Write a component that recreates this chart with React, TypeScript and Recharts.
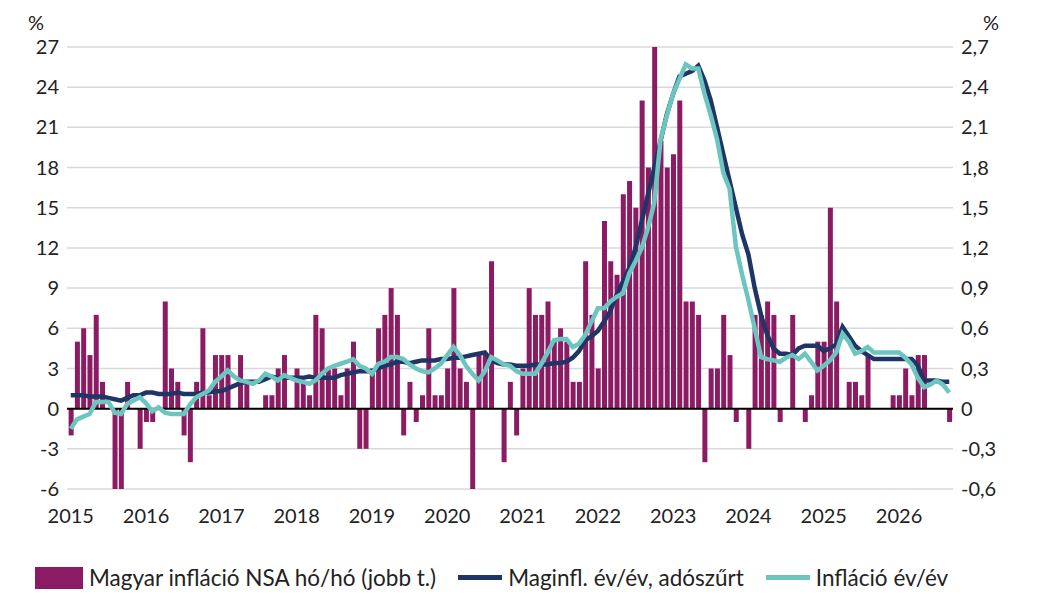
import React from "react";
import {
  ComposedChart,
  Bar,
  Line,
  XAxis,
  YAxis,
  CartesianGrid,
  ReferenceLine,
} from "recharts";

// monthly, Jan 2015 .. Sep 2026
const monthlyNsa = [
  -2, 5, 6, 4, 7, 2, 0, -6, -6, 2, 0, -3,
  -1, -1, 0, 8, 3, 2, -2, -4, 2, 6, 1, 4,
  4, 4, 0, 4, 2, 0, 0, 1, 1, 3, 4, 0,
  3, 2, 1, 7, 6, 3, 3, 1, 3, 5, -3, -3,
  3, 6, 7, 9, 7, -2, 2, -1, 1, 6, 1, 1,
  3, 9, 3, 2, -6, 4, 4, 11, 0, -4, 2, -2,
  3, 9, 7, 7, 8, 5, 6, 5, 2, 2, 11, 7,
  3, 14, 11, 10, 16, 17, 15, 23, 18, 27, 20, 18,
  19, 23, 8, 8, 7, -4, 3, 3, 7, 4, -1, 0,
  -3, 7, 7, 8, 7, -1, 0, 7, 0, -1, 1, 5,
  5, 15, 8, 0, 2, 2, 1, 4, 0, 0, 0, 1,
  1, 3, 1, 4, 4, 0, 0, 0, -1,
].map((v) => v / 10);

const coreYoy = [
  1.0, 1.0, 1.0, 0.9, 0.9, 0.9, 0.8, 0.7, 0.6, 0.8, 1.0, 1.0,
  1.2, 1.2, 1.1, 1.1, 1.1, 1.2, 1.1, 1.1, 1.1, 1.2, 1.2, 1.3,
  1.3, 1.5, 1.7, 1.9, 2.0, 2.0, 2.0, 2.2, 2.4, 2.3, 2.3, 2.3,
  2.3, 2.3, 2.4, 2.3, 2.3, 2.3, 2.3, 2.5, 2.6, 2.7, 2.8, 2.8,
  2.8, 3.0, 3.2, 3.3, 3.5, 3.5, 3.4, 3.5, 3.6, 3.6, 3.6, 3.7,
  3.7, 3.8, 3.8, 3.9, 4.0, 4.1, 4.2, 3.6, 3.4, 3.3, 3.3, 3.2,
  3.2, 3.2, 3.3, 3.3, 3.3, 3.4, 3.4, 3.5, 3.8, 4.3, 5.1, 5.4,
  5.8, 6.5, 7.3, 8.5, 9.5, 10.5, 12, 14, 16, 18, 20, 22,
  23.5, 24.8, 25, 25.2, 25.6, 24.5, 23, 21, 19, 17, 15, 13,
  11.5, 9, 7, 5.5, 4.5, 4.1, 4.1, 4.0, 4.5, 4.7, 4.7, 4.7,
  4.3, 4.5, 4.8, 6.1, 5.4, 4.7, 4.3, 4.0, 3.7, 3.7, 3.7, 3.7,
  3.7, 3.7, 3.7, 3.2, 2.1, 2.1, 2.1, 2.0, 2.0,
];

const headlineYoy = [
  -1.5, -0.8, -0.6, -0.4, 0.5, 0.5, 0.5, -0.3, -0.4, 0.35, 0.6, 0.85,
  0.4, -0.2, 0.1, -0.3, -0.4, -0.4, -0.4, 0.3, 0.85, 1.1, 1.35, 2.0,
  2.4, 2.85, 2.4, 2.1, 2.0, 1.85, 2.1, 2.6, 2.4, 2.1, 2.5, 2.3,
  2.1, 2.0, 1.85, 2.1, 2.6, 3.0, 3.2, 3.35, 3.5, 3.7, 3.2, 3.0,
  2.6, 3.35, 3.5, 3.85, 3.85, 3.7, 3.3, 3.0, 2.8, 2.7, 3.0, 3.35,
  4.0, 4.6, 4.0, 3.2, 2.6, 2.1, 2.8, 3.85, 3.6, 3.3, 3.2, 2.8,
  2.6, 2.6, 2.6, 3.35, 4.2, 5.1, 5.2, 5.2, 4.6, 4.85, 5.5, 6.5,
  7.5, 7.5, 8.0, 8.35, 8.6, 10.1, 11.0, 12.0, 13.5, 15.4, 20.1, 21.9,
  23.5, 24.6, 25.7, 25.4, 25.4, 23.5, 21.9, 20.1, 17.6, 16.4, 12.1, 10,
  8.1, 6.0, 3.85, 3.7, 3.6, 3.5, 3.8, 4.0, 3.7, 4.1, 3.5, 2.85,
  3.2, 3.6, 4.2, 5.6, 5.0, 4.1, 4.3, 4.6, 4.2, 4.2, 4.2, 4.2,
  4.2, 3.8, 3.3, 2.3, 1.6, 1.8, 2.1, 1.8, 1.2,
];

const yearLabels = ["2015", "2016", "2017", "2018", "2019", "2020", "2021", "2022", "2023", "2024", "2025", "2026"];
const leftTicks = [-6, -3, 0, 3, 6, 9, 12, 15, 18, 21, 24, 27];
const rightTicks = [-0.6, -0.3, 0, 0.3, 0.6, 0.9, 1.2, 1.5, 1.8, 2.1, 2.4, 2.7];

const data = monthlyNsa.map((v, i) => ({
  i,
  nsa: v,
  core: coreYoy[i],
  cpi: headlineYoy[i],
}));

const FONT = "Lato, 'Open Sans', sans-serif";
const PURPLE = "#8B1C64";
const NAVY = "#1F3566";
const TEAL = "#6CC5BE";

const fmtRight = (v: number) => (v === 0 ? "0" : v.toFixed(1).replace(".", ","));

export default function App() {
  return (
    <div style={{ position: "relative", width: 1025, height: 600, fontFamily: FONT, color: "#222" }}>
      <div style={{ position: "absolute", left: 20, top: 2, fontSize: 20 }}>%</div>
      <div style={{ position: "absolute", left: 975, top: 2, fontSize: 20 }}>%</div>
      <ComposedChart
        width={1025}
        height={530}
        data={data}
        margin={{ top: 39, right: 10, bottom: 9, left: 9 }}
      >
        <CartesianGrid yAxisId="left" vertical={false} stroke="#d9d9d9" strokeWidth={1.5} />
        <XAxis
          dataKey="i"
          type="number"
          domain={[-0.6, 140.6]}
          ticks={yearLabels.map((_, k) => k * 12)}
          tickFormatter={(v: number) => yearLabels[v / 12]}
          axisLine={false}
          tickLine={false}
          height={40}
          tick={{ fontSize: 20, fill: "#222", fontFamily: FONT, dy: 12 }}
          interval={0}
        />
        <YAxis
          yAxisId="left"
          domain={[-6, 27]}
          ticks={leftTicks}
          axisLine={false}
          tickLine={false}
          width={50}
          interval={0}
          tick={{ fontSize: 20, fill: "#222", fontFamily: FONT }}
        />
        <YAxis
          yAxisId="right"
          orientation="right"
          domain={[-0.6, 2.7]}
          ticks={rightTicks}
          tickFormatter={fmtRight}
          axisLine={false}
          tickLine={false}
          width={70}
          interval={0}
          tick={{ fontSize: 20, fill: "#222", fontFamily: FONT }}
        />
        <Bar yAxisId="right" dataKey="nsa" fill={PURPLE} barSize={5} isAnimationActive={false} />
        <ReferenceLine yAxisId="left" y={0} stroke="#000" strokeWidth={2} />
        <Line yAxisId="left" dataKey="core" stroke={NAVY} strokeWidth={4.5} dot={false} isAnimationActive={false} />
        <Line yAxisId="left" dataKey="cpi" stroke={TEAL} strokeWidth={4.5} dot={false} isAnimationActive={false} />
      </ComposedChart>
      <div style={{ position: "absolute", top: 556, left: 27, display: "flex", alignItems: "center", fontSize: 22.5 }}>
        <span style={{ display: "inline-block", width: 48, height: 22, background: PURPLE, marginRight: 6 }} />
        <span style={{ marginRight: 22 }}>Magyar infláció NSA hó/hó (jobb t.)</span>
        <span style={{ display: "inline-block", width: 44, height: 5, background: NAVY, marginRight: 6 }} />
        <span style={{ marginRight: 22 }}>Maginfl. év/év, adószűrt</span>
        <span style={{ display: "inline-block", width: 44, height: 5, background: TEAL, marginRight: 6 }} />
        <span>Infláció év/év</span>
      </div>
    </div>
  );
}
